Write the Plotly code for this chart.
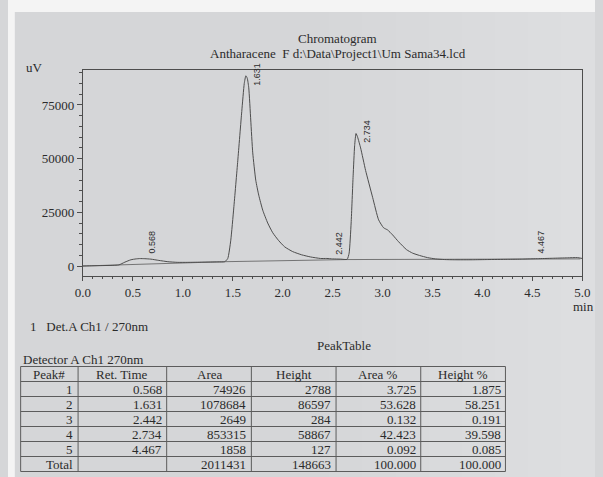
import numpy as np
import plotly.graph_objects as go

# ---- detector trace (time in min, signal in uV) ----
trace_time = [0.00, 0.10, 0.20, 0.30, 0.36, 0.42, 0.48, 0.53, 0.568, 0.62, 0.68, 0.76, 0.85,
              0.95, 1.05, 1.20, 1.35, 1.42, 1.45, 1.48, 1.51, 1.55, 1.59, 1.615, 1.631, 1.645,
              1.66, 1.68, 1.70, 1.73, 1.76, 1.80, 1.85, 1.90, 1.96, 2.02, 2.10, 2.19, 2.28,
              2.38, 2.442, 2.50, 2.58, 2.645, 2.665, 2.685, 2.705, 2.72, 2.734, 2.75, 2.78,
              2.83, 2.90, 2.96, 3.01, 3.05, 3.10, 3.16, 3.24, 3.30, 3.37, 3.45, 3.53, 3.62,
              3.72, 3.90, 4.05, 4.25, 4.40, 4.467, 4.55, 4.70, 4.85, 4.95, 5.00]
trace_signal = [0, 100, 200, 300, 500, 1800, 2900, 3300, 3450, 3400, 3200, 2600, 2000,
                1700, 1700, 1800, 1900, 2000, 3500, 12000, 27000, 49000, 72000, 85000, 88600, 87500,
                83000, 68000, 52700, 40000, 33000, 26000, 20000, 15500, 11800, 8900, 6700, 5200, 4200,
                3500, 3500, 3300, 3200, 3100, 6000, 20000, 42000, 56000, 61700, 60000, 55000,
                44500, 32000, 21500, 17800, 16800, 14500, 11300, 7600, 6000, 4900, 3900, 3300, 3000,
                2900, 2900, 3000, 3100, 3200, 3300, 3400, 3600, 3800, 3900, 3500]

# ---- integration baseline ----
base_time = [0.00, 0.36, 1.42, 2.645, 4.98]
base_signal = [0, 500, 2000, 3000, 3300]

# ---- peak table ----
peak_no = ["1", "2", "3", "4", "5"]
ret_time = [0.568, 1.631, 2.442, 2.734, 4.467]
area = [74926, 1078684, 2649, 853315, 1858]
height = [2788, 86597, 284, 58867, 127]
area_pct = [3.725, 53.628, 0.132, 42.423, 0.092]
height_pct = [1.875, 58.251, 0.191, 39.598, 0.085]
total_area = 2011431
total_height = 148663
table_headers = ["Peak#", "Ret. Time", "Area", "Height", "Area %", "Height %"]

x_ticks = [0.0, 0.5, 1.0, 1.5, 2.0, 2.5, 3.0, 3.5, 4.0, 4.5, 5.0]
y_ticks = [0, 25000, 50000, 75000]

W, H = 603, 477
INK = "#2b2b2b"
LINE = "#4d4d4d"
PAPER = "#d5d6d8"
SERIF = "Liberation Serif, Times New Roman, serif"


def px(x):
    return x / W


def py(y):
    return 1 - y / H


fig = go.Figure()

fig.add_trace(go.Scatter(x=base_time, y=base_signal, mode="lines",
                         line=dict(color="#5a5a5a", width=0.8),
                         hoverinfo="skip", showlegend=False))
fig.add_trace(go.Scatter(x=trace_time, y=trace_signal, mode="lines",
                         line=dict(color=LINE, width=1, shape="spline", smoothing=0.5),
                         showlegend=False))

annotations = []

# retention-time labels, written vertically beside each apex
for rt, h in zip(ret_time, height):
    apex = h + float(np.interp(rt, base_time, base_signal))
    big = h > 10000
    annotations.append(dict(x=rt, y=apex, xref="x", yref="y", text=f"{rt:.3f}",
                            textangle=-90, showarrow=False, xanchor="left",
                            yanchor="bottom", xshift=4 if big else 5,
                            yshift=-12 if big else 3,
                            font=dict(family="Liberation Sans, Arial", size=9, color=INK)))


def text(x, y, s, size=13, anchor="center", family=SERIF):
    annotations.append(dict(x=px(x), y=py(y), xref="paper", yref="paper", text=s,
                            showarrow=False, xanchor=anchor, yanchor="middle",
                            font=dict(family=family, size=size, color=INK)))


text(338, 39, "Chromatogram")
text(339, 53, "Antharacene  F d:\\Data\\Project1\\Um Sama34.lcd")
text(27, 67, "uV")
text(591, 306, "min")
text(21, 326, "1&nbsp;&nbsp;&nbsp;Det.A Ch1 / 270nm", anchor="left")
text(345, 345, "PeakTable")
text(13, 359, "Detector A Ch1 270nm", anchor="left")

# ---- peak table drawn with lines and text ----
col_edges = [13, 72, 163, 250, 337, 424, 511]
row_top, row_h = 366.5, 15
n_rows = 1 + len(peak_no) + 1
shapes = []

# sheet lighting: brighter towards the right-hand side
for i in range(8):
    shapes.append(dict(type="rect", xref="paper", yref="paper", x0=px(330 + i * 34), x1=1,
                       y0=0, y1=1, fillcolor="white", opacity=0.045,
                       line=dict(width=0), layer="below"))

for k in range(n_rows + 1):
    y = row_top + k * row_h
    shapes.append(dict(type="line", xref="paper", yref="paper", x0=px(col_edges[0]),
                       x1=px(col_edges[-1]), y0=py(y), y1=py(y),
                       line=dict(color="#5c5c5c", width=1)))
for xe in col_edges:
    shapes.append(dict(type="line", xref="paper", yref="paper", x0=px(xe), x1=px(xe),
                       y0=py(row_top), y1=py(row_top + n_rows * row_h),
                       line=dict(color="#5c5c5c", width=1)))

for c, hd in enumerate(table_headers):
    text((col_edges[c] + col_edges[c + 1]) / 2, row_top + row_h / 2, hd)

rows = [[p, f"{rt:.3f}", f"{a}", f"{h}", f"{ap:.3f}", f"{hp:.3f}"]
        for p, rt, a, h, ap, hp in zip(peak_no, ret_time, area, height, area_pct, height_pct)]
rows.append(["Total", "", f"{total_area}", f"{total_height}",
             f"{sum(area_pct):.3f}", f"{sum(height_pct):.3f}"])
for r, row in enumerate(rows):
    yc = row_top + (r + 1.5) * row_h
    for c, val in enumerate(row):
        if val:
            text(col_edges[c + 1] - 3, yc, val, anchor="right")

# photo margins of the sheet
shapes.append(dict(type="rect", xref="paper", yref="paper", x0=0, x1=1, y0=py(12), y1=1,
                   fillcolor="#f4f4f4", line=dict(width=0), layer="below"))
shapes.append(dict(type="rect", xref="paper", yref="paper", x0=0, x1=px(7), y0=0, y1=1,
                   fillcolor="#f4f4f4", line=dict(width=0), layer="below"))

axis_font = dict(family=SERIF, size=13, color=INK)
fig.update_layout(
    width=W, height=H, margin=dict(l=0, r=0, t=0, b=0),
    paper_bgcolor=PAPER, plot_bgcolor="rgba(0,0,0,0)",
    showlegend=False,
    annotations=annotations, shapes=shapes,
    xaxis=dict(domain=[px(77), px(590)], range=[0, 5], tickvals=x_ticks,
               ticktext=[f"{v:.1f}" for v in x_ticks], ticks="outside", ticklen=4,
               tickcolor=LINE, showline=True, linecolor=LINE, linewidth=1, mirror=True,
               showgrid=False, zeroline=False, tickfont=axis_font,
               minor=dict(dtick=0.1, ticks="outside", ticklen=2, tickcolor=LINE)),
    yaxis=dict(domain=[py(276), py(70)], range=[-4660, 91300], tickvals=y_ticks,
               ticktext=[str(v) for v in y_ticks], ticks="outside", ticklen=5,
               tickcolor=LINE, showline=True, linecolor=LINE, linewidth=1, mirror=True,
               showgrid=False, zeroline=False, tickfont=axis_font,
               minor=dict(dtick=5000, ticks="outside", ticklen=3, tickcolor=LINE)),
)

fig.write_html("out.html")
